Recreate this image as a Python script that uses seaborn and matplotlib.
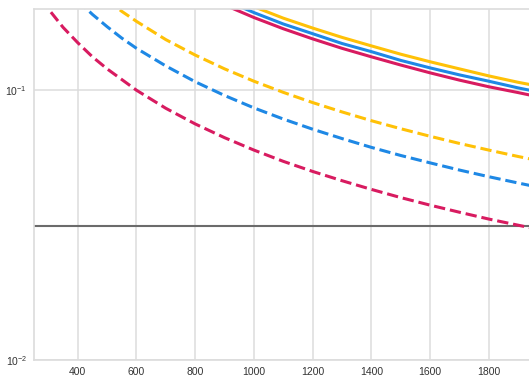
import matplotlib
matplotlib.use("Agg")
import matplotlib.pyplot as plt
import seaborn as sns
import pandas as pd

# ---- data ----
x_red_dash = [250, 300, 350, 400, 450, 500, 600, 700, 800, 900, 1000, 1100, 1200, 1300, 1400, 1500, 1600, 1700, 1800, 1900, 2000]
y_red_dash = [0.240, 0.200, 0.171, 0.150, 0.133, 0.120, 0.100, 0.0857, 0.0750, 0.0667, 0.0600, 0.0545, 0.0500, 0.0462, 0.0429, 0.0400, 0.0375, 0.0353, 0.0333, 0.0316, 0.0300]

x_blue_dash = [400, 450, 500, 550, 600, 700, 800, 900, 1000, 1100, 1200, 1300, 1400, 1500, 1600, 1700, 1800, 1900, 2000]
y_blue_dash = [0.215, 0.191, 0.172, 0.156, 0.143, 0.123, 0.1075, 0.0956, 0.086, 0.0782, 0.0717, 0.0662, 0.0614, 0.0573, 0.0538, 0.0506, 0.0478, 0.0453, 0.043]

x_yellow_dash = [500, 550, 600, 700, 800, 900, 1000, 1100, 1200, 1300, 1400, 1500, 1600, 1700, 1800, 1900, 2000]
y_yellow_dash = [0.216, 0.196, 0.180, 0.154, 0.135, 0.120, 0.108, 0.0982, 0.090, 0.0831, 0.0771, 0.072, 0.0675, 0.0635, 0.060, 0.0568, 0.054]

x_red_solid = [900, 1000, 1100, 1200, 1300, 1400, 1500, 1600, 1700, 1800, 1900, 2000]
y_red_solid = [0.207, 0.186, 0.169, 0.155, 0.143, 0.133, 0.124, 0.116, 0.109, 0.103, 0.098, 0.093]

x_blue_solid = [900, 1000, 1100, 1200, 1300, 1400, 1500, 1600, 1700, 1800, 1900, 2000]
y_blue_solid = [0.216, 0.194, 0.176, 0.162, 0.149, 0.139, 0.129, 0.121, 0.114, 0.108, 0.102, 0.097]

x_yellow_solid = [1000, 1100, 1200, 1300, 1400, 1500, 1600, 1700, 1800, 1900, 2000]
y_yellow_solid = [0.204, 0.185, 0.170, 0.157, 0.146, 0.136, 0.1275, 0.120, 0.113, 0.107, 0.102]

hline_value = 0.0313
x_ticks = [400, 600, 800, 1000, 1200, 1400, 1600, 1800]

YELLOW = "#FFC107"
BLUE = "#1E88E5"
RED = "#D81B60"

sns.set_theme(style="whitegrid")
plt.rcParams["font.family"] = ["Liberation Sans", "DejaVu Sans"]
plt.rcParams["mathtext.default"] = "regular"

fig = plt.figure(figsize=(5.29, 3.79), dpi=100)
W, H = 529, 379
left_px, top_px, bottom_px = 34, 9, 360
xmin, xmax = 251, 2000
px_per_unit = 411.0 / 1400.0
width_px = (xmax - xmin) * px_per_unit
ax = fig.add_axes([left_px / W, (H - bottom_px) / H, width_px / W, (bottom_px - top_px) / H])

series = [
    (x_yellow_solid, y_yellow_solid, YELLOW, "-"),
    (x_blue_solid, y_blue_solid, BLUE, "-"),
    (x_red_solid, y_red_solid, RED, "-"),
    (x_yellow_dash, y_yellow_dash, YELLOW, "--"),
    (x_blue_dash, y_blue_dash, BLUE, "--"),
    (x_red_dash, y_red_dash, RED, "--"),
]
for xs, ys, c, ls in series:
    df = pd.DataFrame({"x": xs, "y": ys})
    sns.lineplot(data=df, x="x", y="y", ax=ax, color=c, linestyle=ls, linewidth=2.2)

ax.axhline(hline_value, color="#6b6b6b", linewidth=1.5, zorder=1)

ax.set_yscale("log")
ax.set_ylim(0.01, 0.2)
ax.set_xlim(xmin, xmax)
ax.set_xticks(x_ticks)
ax.set_xticklabels([str(t) for t in x_ticks])
ax.set_xlabel("")
ax.set_ylabel("")
ax.tick_params(axis="both", which="both", length=0, labelsize=7.5, colors="#333333")
ax.tick_params(axis="x", pad=5)
ax.tick_params(axis="y", pad=5)
ax.grid(True, which="major", color="#dcdcdc", linewidth=1.1)
ax.grid(False, which="minor")
for s in ax.spines.values():
    s.set_color("#dcdcdc")
    s.set_linewidth(1.2)

fig.savefig("out.png", dpi=100)
